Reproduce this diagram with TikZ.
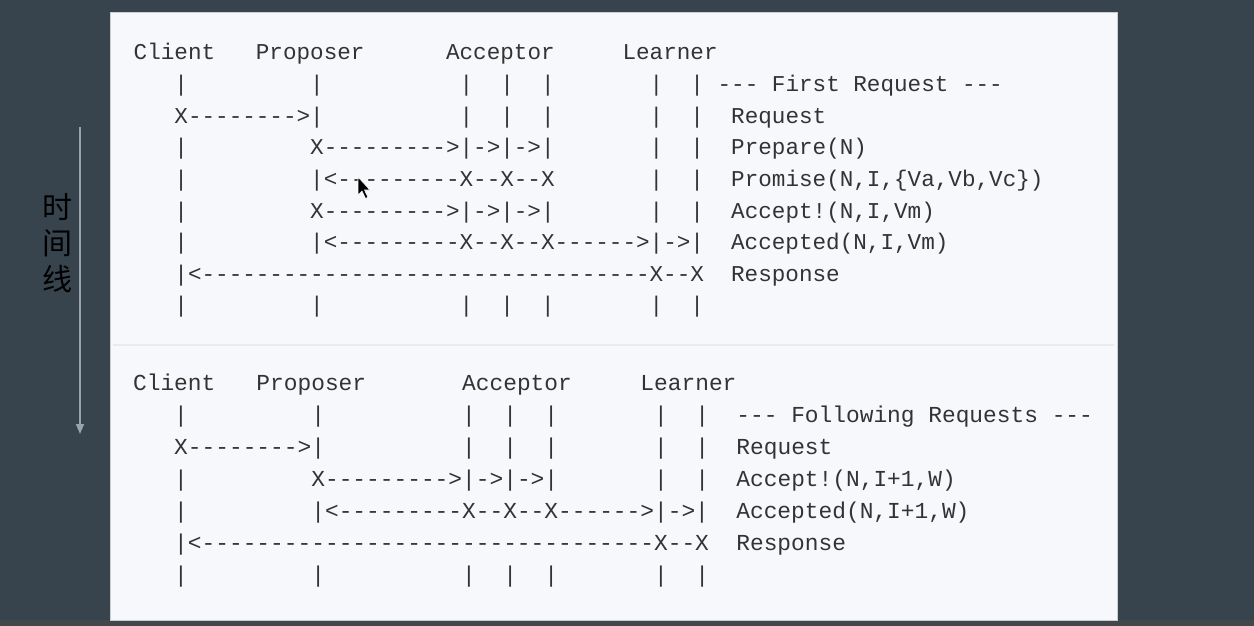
\documentclass[tikz,border=0pt]{standalone}
\usepackage{fontspec}
\setmonofont{Liberation Mono}
\newfontfamily\cjk{Noto Sans CJK SC}
\usetikzlibrary{arrows.meta}
\definecolor{slate}{HTML}{37444E}
\definecolor{slatelow}{HTML}{42474B}
\definecolor{sheet}{HTML}{F6F8FB}
\definecolor{sheetedge}{HTML}{C9CED3}
\definecolor{rule}{HTML}{E9EBEE}
\definecolor{ink}{HTML}{333333}
\definecolor{tline}{HTML}{98A3AB}
\tikzset{
  asc/.style={anchor=base west, inner sep=0pt, text=ink, font=\ttfamily\fontsize{22.63}{27}\selectfont},
  ascb/.style={asc, font=\ttfamily\fontsize{22.85}{27}\selectfont},
  timeline/.style={draw=tline, line width=1.5pt, -{Triangle[length=10pt,width=8pt]}},
}
\begin{document}
\begin{tikzpicture}[x=1pt,y=-1pt]
\useasboundingbox (0,0) rectangle (1254,626);
\fill[slate] (0,0) rectangle (1254,626);
\fill[slatelow] (0,620) rectangle (1254,626);
\filldraw[fill=sheet, draw=sheetedge, line width=1pt] (110,13) rectangle (1117,620);
\draw[rule, line width=1.2pt] (113,345) -- (1114,345);

\coordinate (tl0) at (80,127);
\coordinate (tl1) at (80,434);
\draw[timeline] (tl0) -- (tl1);
\node[font=\cjk\fontsize{30}{36}\selectfont, text=black, align=center, inner sep=0pt] (tl) at (57,243) {时\\间\\线};

\node[asc] (u0) at (133.5,60) {Client~~~Proposer~~~~~~Acceptor~~~~~Learner};
\node[asc] (u1) at (133.5,91.6) {~~~|~~~~~~~~~|~~~~~~~~~~|~~|~~|~~~~~~~|~~|~--- First Request ---};
\node[asc] (u2) at (133.5,123.2) {~~~X-------->|~~~~~~~~~~|~~|~~|~~~~~~~|~~|~~Request};
\node[asc] (u3) at (133.5,154.8) {~~~|~~~~~~~~~X--------->|->|->|~~~~~~~|~~|~~Prepare(N)};
\node[asc] (u4) at (133.5,186.4) {~~~|~~~~~~~~~|<---------X--X--X~~~~~~~|~~|~~Promise(N,I,\{Va,Vb,Vc\})};
\node[asc] (u5) at (133.5,218) {~~~|~~~~~~~~~X--------->|->|->|~~~~~~~|~~|~~Accept!(N,I,Vm)};
\node[asc] (u6) at (133.5,249.6) {~~~|~~~~~~~~~|<---------X--X--X------>|->|~~Accepted(N,I,Vm)};
\node[asc] (u7) at (133.5,281.2) {~~~|<---------------------------------X--X~~Response};
\node[asc] (u8) at (133.5,312.8) {~~~|~~~~~~~~~|~~~~~~~~~~|~~|~~|~~~~~~~|~~|};

\node[ascb] (l0) at (132.9,390.5) {Client~~~Proposer~~~~~~~Acceptor~~~~~Learner};
\node[ascb] (l1) at (132.9,422.5) {~~~|~~~~~~~~~|~~~~~~~~~~|~~|~~|~~~~~~~|~~|~~--- Following Requests ---};
\node[ascb] (l2) at (132.9,454.5) {~~~X-------->|~~~~~~~~~~|~~|~~|~~~~~~~|~~|~~Request};
\node[ascb] (l3) at (132.9,486.5) {~~~|~~~~~~~~~X--------->|->|->|~~~~~~~|~~|~~Accept!(N,I+1,W)};
\node[ascb] (l4) at (132.9,518.5) {~~~|~~~~~~~~~|<---------X--X--X------>|->|~~Accepted(N,I+1,W)};
\node[ascb] (l5) at (132.9,550.5) {~~~|<---------------------------------X--X~~Response};
\node[ascb] (l6) at (132.9,582.5) {~~~|~~~~~~~~~|~~~~~~~~~~|~~|~~|~~~~~~~|~~|};

\filldraw[fill=black, draw=white, line width=0.6pt] (358,177) -- ++(0,18) -- ++(4,-4) -- ++(3.5,7.5) -- ++(2.5,-1.2) -- ++(-3.5,-7.3) -- ++(5.5,0) -- cycle;
\end{tikzpicture}
\end{document}
